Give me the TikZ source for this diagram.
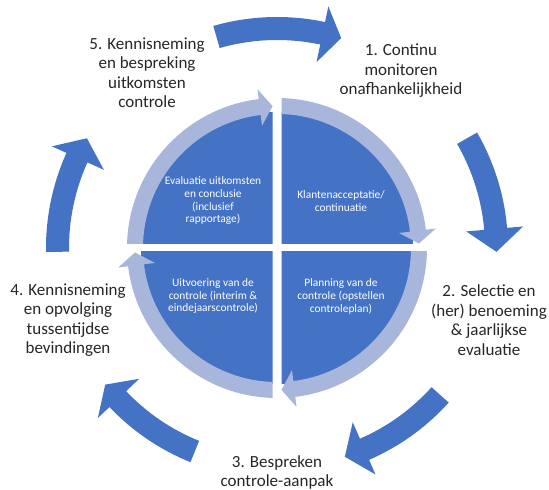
\documentclass[tikz,border=0pt]{standalone}
\usepackage{fontspec}
\setmainfont{Carlito}
\definecolor{cycleblue}{HTML}{4472C4}
\definecolor{ringblue}{HTML}{A9B6DB}
\definecolor{labelgray}{HTML}{262626}

% Curved block arrow around the origin, running clockwise.
% #1 colour, #2 tail angle, #3 head base angle, #4 tip angle,
% #5/#6 inner/outer radius of the band, #7/#8 inner/outer radius of the head, #9 tip radius
\newcommand{\bandarrow}[9]{%
  \fill[#1] (#2:#6pt) arc[start angle=#2, end angle=#3, radius=#6pt]
    -- (#3:#8pt) -- (#4:#9pt) -- (#3:#7pt) -- (#3:#5pt)
    arc[start angle=#3, end angle=#2, radius=#5pt] -- cycle;}

\begin{document}
\begin{tikzpicture}[x=1pt,y=1pt,
  outerlabel/.style={text=labelgray, align=center, inner sep=0pt,
    font=\fontsize{17}{19.5}\selectfont},
  innerlabel/.style={text=white, align=center, inner sep=0pt,
    font=\fontsize{11.4}{12.7}\selectfont}]
\useasboundingbox (0,0) rectangle (549,490);

\begin{scope}[shift={(277,242)}]
  % outer cycle of five arrows
  \bandarrow{cycleblue}{106}{78}{73}{208}{231}{190}{247}{219.5}
  \bandarrow{cycleblue}{30}{5}{-1}{208}{231}{190}{247}{219.5}
  \bandarrow{cycleblue}{-42}{-66.5}{-72}{208}{231}{190}{247}{219.5}
  \bandarrow{cycleblue}{-112}{-136.5}{-141.5}{208}{231}{190}{247}{219.5}
  \bandarrow{cycleblue}{181}{155.7}{150}{208}{231}{190}{247}{219.5}

  % four quadrants, each with its light ring arrow
  \foreach \sx/\sy/\a in {-1/1/180, 1/1/90, 1/-1/0, -1/-1/-90} {
    \pgfmathsetmacro\hb{\a-83}
    \pgfmathsetmacro\tp{\a-88.2}
    \begin{scope}
      \clip (\sx*4.5, \sy*4) rectangle (\sx*175, \sy*175);
      \fill[cycleblue] (0,0) circle[radius=136pt];
      \bandarrow{ringblue}{\a}{\hb}{\tp}{134}{150}{123}{160}{142}
    \end{scope}
  }
\end{scope}

% step labels
\node[outerlabel] (step5) at (147,417.5) {5. Kennisneming\\en bespreking\\uitkomsten\\controle};
\node[outerlabel] (step1) at (401,419) {1. Continu\\monitoren\\onafhankelijkheid};
\node[outerlabel] (step2) at (489,170) {2. Selectie en\\(her) benoeming\\\&~jaarlijkse\\evaluatie};
\node[outerlabel] (step3) at (277,17.5) {3. Bespreken\\controle-aanpak};
\node[outerlabel] (step4) at (68,170) {4. Kennisneming\\en opvolging\\tussentijdse\\bevindingen};

% quadrant texts
\node[innerlabel] (qul) at (213,289.2) {Evaluatie uitkomsten\\en conclusie\\(inclusief\\rapportage)};
\node[innerlabel] (qur) at (341,288.7) {Klantenacceptatie/\\continuatie};
\node[innerlabel] (qlr) at (341,193.7) {Planning van de\\controle (opstellen\\controleplan)};
\node[innerlabel] (qll) at (213,193.7) {Uitvoering van de\\controle (interim \&\\eindejaarscontrole)};
\end{tikzpicture}
\end{document}
